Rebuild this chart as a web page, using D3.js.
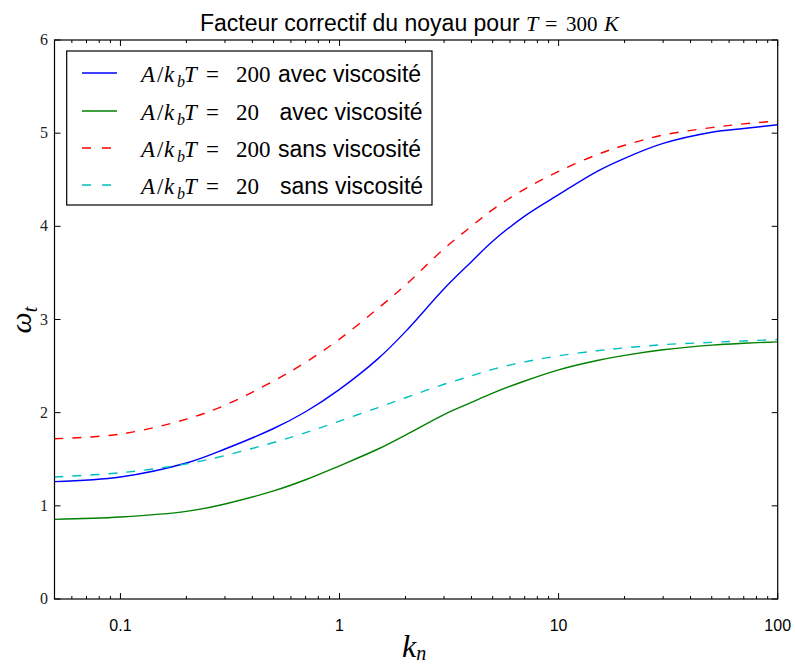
<!DOCTYPE html>
<html>
<head>
<meta charset="utf-8">
<script src="https://cdn.jsdelivr.net/npm/d3@7"></script>
<style>
  body { margin: 0; background: #fff; }
  svg { display: block; }
</style>
</head>
<body>
<svg id="chart" width="795" height="666"></svg>
<script>
// ---- data ----
const kn = [0.05, 0.1, 0.2, 0.3, 0.5, 0.7, 1, 1.5, 2, 3, 4, 5, 7, 10, 15, 20, 30, 50, 70, 100];
const avec200 = [1.26, 1.31, 1.46, 1.61, 1.83, 2.01, 2.25, 2.58, 2.87, 3.33, 3.62, 3.84, 4.11, 4.34, 4.59, 4.73, 4.89, 5.01, 5.05, 5.09];
const avec20  = [0.855, 0.88, 0.94, 1.02, 1.16, 1.28, 1.43, 1.61, 1.76, 1.98, 2.11, 2.21, 2.34, 2.46, 2.56, 2.615, 2.675, 2.725, 2.745, 2.76];
const sans200 = [1.72, 1.77, 1.93, 2.08, 2.34, 2.54, 2.79, 3.12, 3.37, 3.76, 4.00, 4.18, 4.40, 4.59, 4.77, 4.87, 4.98, 5.06, 5.10, 5.13];
const sans20  = [1.31, 1.355, 1.45, 1.54, 1.68, 1.785, 1.91, 2.055, 2.16, 2.305, 2.395, 2.465, 2.545, 2.61, 2.665, 2.695, 2.73, 2.755, 2.77, 2.785];
const xTickValues = [0.1, 1, 10, 100];
const xTickLabels = ["0.1", "1", "10", "100"];
const yTickValues = [0, 1, 2, 3, 4, 5, 6];
const seriesNames = ["200", "20", "200", "20"];
const seriesSuffix = ["avec viscosité", "avec viscosité", "sans viscosité", "sans viscosité"];

const series = [
  { vals: avec200, color: "#0000ff", dash: null },
  { vals: avec20,  color: "#008000", dash: null },
  { vals: sans200, color: "#ff0000", dash: "9,9" },
  { vals: sans20,  color: "#00bfbf", dash: "9,9" }
];

// ---- layout ----
const L = 54.5, R = 777.7, T = 40, B = 599;
const svg = d3.select("#chart");
const x = d3.scaleLog().domain([0.05, 100]).range([L, R]);
const y = d3.scaleLinear().domain([0, 6]).range([B, T]);
const serif = "'Liberation Serif', 'DejaVu Serif', serif";
const sans = "'Liberation Sans', Arial, sans-serif";

svg.append("defs").append("clipPath").attr("id", "clip")
  .append("rect").attr("x", L).attr("y", T).attr("width", R - L).attr("height", B - T);

// lines
const line = d3.line().x((d, i) => x(kn[i])).y(d => y(d)).curve(d3.curveCatmullRom.alpha(0.5));
const g = svg.append("g").attr("clip-path", "url(#clip)");
series.forEach(s => {
  g.append("path").attr("d", line(s.vals))
    .attr("fill", "none").attr("stroke", s.color).attr("stroke-width", 1.4)
    .attr("stroke-dasharray", s.dash);
});

// axes with inward ticks
const minorX = [];
[0.01, 0.1, 1, 10].forEach(d => { for (let m = 2; m <= 9; m++) { const v = d * m; if (v >= 0.05 && v <= 100) minorX.push(v); } });

function xAxis(ypos, dir, labels) {
  const ag = svg.append("g");
  ag.selectAll(".maj").data(xTickValues).enter().append("line")
    .attr("x1", d => x(d)).attr("x2", d => x(d)).attr("y1", ypos).attr("y2", ypos + dir * 6)
    .attr("stroke", "#000").attr("stroke-width", 1);
  ag.selectAll(".min").data(minorX).enter().append("line")
    .attr("x1", d => x(d)).attr("x2", d => x(d)).attr("y1", ypos).attr("y2", ypos + dir * 3)
    .attr("stroke", "#000").attr("stroke-width", 1);
  if (labels) {
    ag.selectAll("text").data(xTickValues).enter().append("text")
      .attr("x", d => x(d)).attr("y", 631).attr("text-anchor", "middle")
      .attr("font-family", sans).attr("font-size", 16).text((d, i) => xTickLabels[i]);
  }
}
xAxis(B, -1, true);
xAxis(T, 1, false);

const ya = svg.append("g");
ya.selectAll(".l").data(yTickValues).enter().append("line")
  .attr("x1", L).attr("x2", L + 6).attr("y1", d => y(d)).attr("y2", d => y(d)).attr("stroke", "#000");
ya.selectAll(".r").data(yTickValues).enter().append("line")
  .attr("x1", R).attr("x2", R - 6).attr("y1", d => y(d)).attr("y2", d => y(d)).attr("stroke", "#000");
ya.selectAll("text").data(yTickValues).enter().append("text")
  .attr("x", 48).attr("y", d => y(d) + 5).attr("text-anchor", "end")
  .attr("font-family", serif).attr("font-size", 16).attr("fill", "#222").text(d => d);

// frame
svg.append("rect").attr("x", L).attr("y", T).attr("width", R - L).attr("height", B - T)
  .attr("fill", "none").attr("stroke", "#000").attr("stroke-width", 1.2);

// title
const title = svg.append("text").attr("y", 31).attr("font-size", 23);
title.append("tspan").attr("x", 200).attr("font-family", sans).text("Facteur correctif du noyau pour");
title.append("tspan").attr("x", 526).attr("font-family", serif).attr("font-style", "italic").attr("font-size", 22).text("T");
title.append("tspan").attr("x", 545).attr("font-family", serif).attr("font-size", 22).text("=");
title.append("tspan").attr("x", 566).attr("font-family", serif).attr("font-size", 21).text("300");
title.append("tspan").attr("x", 604).attr("font-family", serif).attr("font-style", "italic").attr("font-size", 22).text("K");

// axis labels
const yl = svg.append("text").attr("transform", "translate(31,320) rotate(-90)")
  .attr("text-anchor", "middle").attr("font-family", serif).attr("font-size", 30);
yl.append("tspan").attr("font-style", "italic").text("ω");
yl.append("tspan").attr("font-style", "italic").attr("font-size", 20).attr("dy", 6).text("t");

const xl = svg.append("text").attr("x", 402).attr("y", 657).attr("font-family", serif).attr("font-size", 32);
xl.append("tspan").attr("font-style", "italic").text("k");
xl.append("tspan").attr("font-style", "italic").attr("font-size", 20).attr("dy", 3).text("n");

// legend
const lg = svg.append("g");
lg.append("rect").attr("x", 66.7).attr("y", 51).attr("width", 432 - 66.7).attr("height", 205 - 51)
  .attr("fill", "#fff").attr("stroke", "#000").attr("stroke-width", 1.2);
const rowY = [73, 111, 148, 185];
const suffixX = [278, 279.5, 278, 280];
series.forEach((s, i) => {
  lg.append("line").attr("x1", 82).attr("x2", 117).attr("y1", rowY[i]).attr("y2", rowY[i])
    .attr("stroke", s.color).attr("stroke-width", 1.4).attr("stroke-dasharray", s.dash ? "9,11" : null);
  const by = rowY[i] + 9;
  const t = lg.append("text").attr("y", by).attr("font-family", serif).attr("font-size", 23);
  t.append("tspan").attr("x", 141).attr("font-style", "italic").text("A");
  t.append("tspan").attr("x", 157).text("/");
  t.append("tspan").attr("x", 164).attr("font-style", "italic").text("k");
  t.append("tspan").attr("x", 177).attr("y", by + 5).attr("font-style", "italic").attr("font-size", 16).text("b");
  t.append("tspan").attr("x", 184).attr("y", by).attr("font-style", "italic").text("T");
  t.append("tspan").attr("x", 206).text("=");
  t.append("tspan").attr("x", 236).text(seriesNames[i]);
  lg.append("text").attr("x", suffixX[i]).attr("y", by).attr("font-family", sans)
    .attr("font-size", 23).text(seriesSuffix[i]);
});
</script>
</body>
</html>
